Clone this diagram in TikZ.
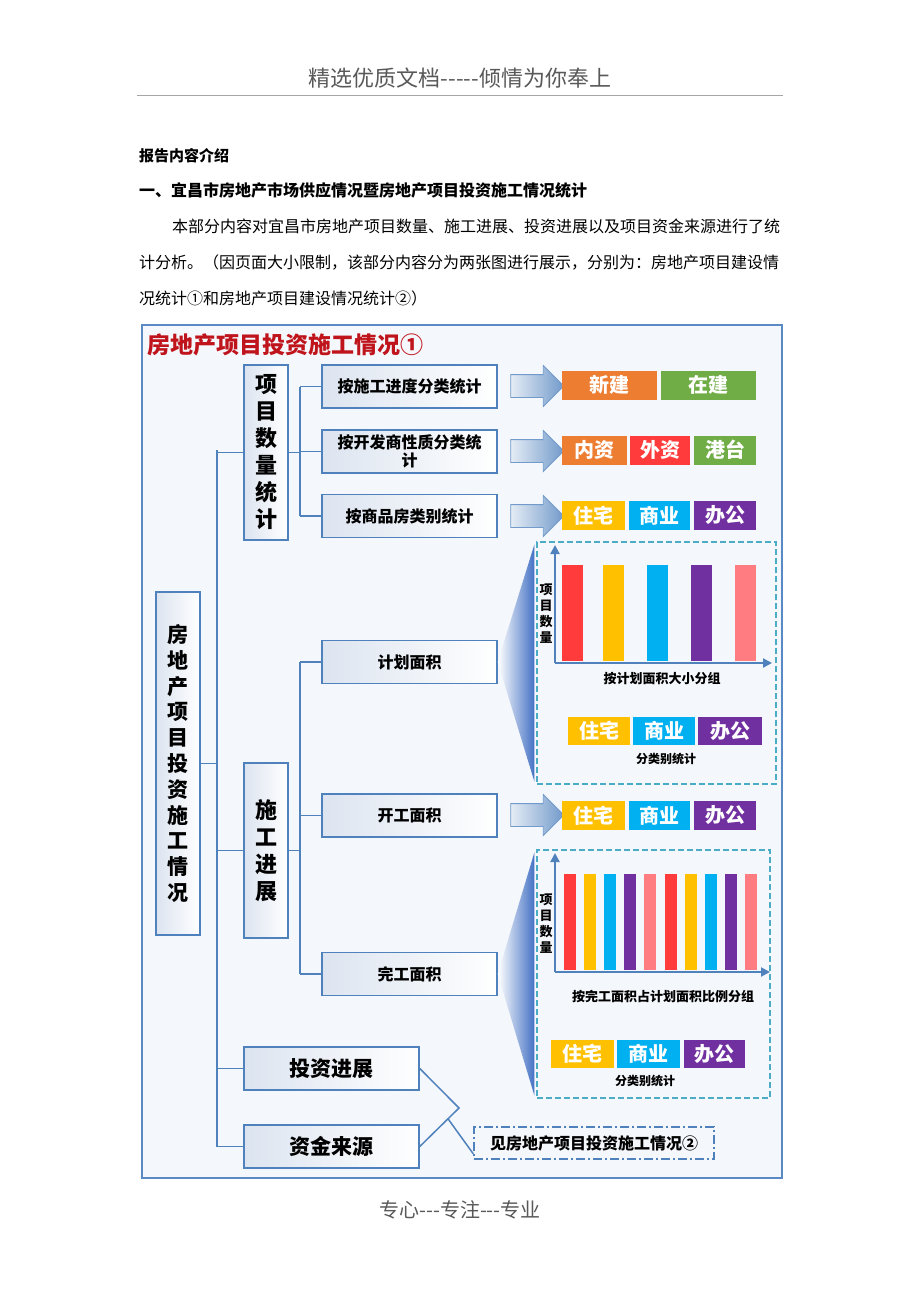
\documentclass[tikz,border=0pt]{standalone}
\usepackage{fontspec}
\setmainfont{Noto Sans CJK SC}
\usepackage{tikz}
\usetikzlibrary{positioning,calc,shapes.arrows,arrows.meta}
\definecolor{boxblue}{HTML}{4F81BD}
\definecolor{frameblue}{HTML}{5A8AC6}
\definecolor{framefill}{HTML}{F4F7FB}
\definecolor{boxfill}{HTML}{DCE4F0}
\definecolor{titlered}{HTML}{C0141C}
\definecolor{dashblue}{HTML}{4BACC6}
\definecolor{wedgeblue}{HTML}{4472C4}
\definecolor{tagorange}{HTML}{ED7D31}
\definecolor{taggreen}{HTML}{70AD47}
\definecolor{tagred}{HTML}{FF3B3B}
\definecolor{tagyellow}{HTML}{FFC000}
\definecolor{tagcyan}{HTML}{00B0F0}
\definecolor{tagpurple}{HTML}{7030A0}
\definecolor{tagpink}{HTML}{FF7C80}
\newcommand\hy{\hbox{-}}
\newcommand\fs[2]{\fontsize{#1}{#2}\selectfont}
\tikzset{bx/.style={draw=boxblue, line width=1.5pt, left color=boxfill, right color=white, inner sep=0pt, align=center, font=\bfseries\fs{16}{18}}}
\tikzset{vbx/.style={bx, minimum width=44, minimum height=175, font=\bfseries\fs{22}{27}}}
\tikzset{hbx/.style={bx, minimum width=175, minimum height=43}}
\tikzset{conn/.style={draw=boxblue, line width=1.5pt}}
\tikzset{barr/.style={single arrow, draw=boxblue!80, line width=0.8pt, left color=boxblue!15, right color=boxblue!80, inner sep=11pt, minimum height=53, single arrow head extend=9pt, single arrow head indent=0pt}}
\tikzset{tag/.style={fill=#1, text=white, inner sep=0pt, minimum height=29, font=\bfseries\fs{20}{20}}}
\tikzset{dbox/.style={draw=dashblue, dashed, line width=1.2pt, dash pattern=on 6pt off 3pt}}
\tikzset{axis/.style={draw=boxblue, line width=2pt, -{Triangle[length=9pt,width=9pt]}}}
\tikzset{small/.style={font=\bfseries\fs{12}{15.5}, align=center, inner sep=0pt}}
\begin{document}
\begin{tikzpicture}[x=1pt,y=-1pt]
\useasboundingbox[fill=white] (0,0) rectangle (920,1302);
% page text
\node[text=black!65, font=\fs{22}{22}] (HEAD) at (460,78) {精选优质文档\hy\hy\hy\hy\hy 倾情为你奉上};
\draw[black!35, line width=1pt] (137,95) -- (783,95);
\node[anchor=west, inner sep=0pt, font=\bfseries\fs{15}{15}] (SEC) at (139,156) {报告内容介绍};
\node[anchor=west, inner sep=0pt, font=\bfseries\fs{16}{16}] (SUB) at (139,190) {一、宜昌市房地产市场供应情况暨房地产项目投资施工情况统计};
\node[anchor=west, inner sep=0pt, font=\fs{16}{16}] (P1) at (172,226) {本部分内容对宜昌市房地产项目数量、施工进展、投资进展以及项目资金来源进行了统};
\node[anchor=west, inner sep=0pt, font=\fs{16}{16}] (P2) at (139,263) {计分析。（因页面大小限制，该部分内容分为两张图进行展示，分别为：房地产项目建设情};
\node[anchor=west, inner sep=0pt, font=\fs{16}{16}] (P3) at (139,298) {况统计①和房地产项目建设情况统计②）};

% frame
\node[draw=frameblue, fill=framefill, line width=2pt, minimum width=640, minimum height=853, inner sep=0pt] (FRAME) at (462,751.5) {};
\node[anchor=west, inner sep=0pt, text=titlered, font=\bfseries\fs{23}{23}] (TITLE) at (147,345) {房地产项目投资施工情况①};

% tree boxes
\node[bx, minimum width=44, minimum height=343, font=\bfseries\fs{21}{25.8}] (ROOT) at (178,763.5) {房\\地\\产\\项\\目\\投\\资\\施\\工\\情\\况};
\node[vbx] (XMSL) at (266,452.5) {项\\目\\数\\量\\统\\计};
\node[vbx] (SGJZ) at (266,850.5) {施\\工\\进\\展};
\node[hbx, font=\bfseries\fs{21}{21}] (TZJZ) at (331.5,1068.5) {投资进展};
\node[hbx, font=\bfseries\fs{21}{21}] (ZJLY) at (331.5,1146.5) {资金来源};
\node[hbx] (B1) at (409.5,386.5) {按施工进度分类统计};
\node[hbx] (B2) at (409.5,451.5) {按开发商性质分类统\\计};
\node[hbx] (B3) at (409.5,516) {按商品房类别统计};
\node[hbx] (JH) at (409.5,662) {计划面积};
\node[hbx] (KG) at (409.5,815.5) {开工面积};
\node[hbx] (WG) at (409.5,974) {完工面积};

% connectors
\coordinate (T) at (217,450);
\coordinate (S) at (300,0);
\draw[conn] (T) -- (T |- ZJLY.west);
\draw[conn] (ROOT.east) -- (ROOT.east -| T);
\foreach \n in {XMSL,SGJZ,TZJZ,ZJLY} \draw[conn] (T |- \n.west) -- (\n.west);
\draw[conn] (S |- B1.west) -- (S |- B3.west);
\draw[conn] (S |- JH.west) -- (S |- WG.west);
\draw[conn] (XMSL.east) -- (XMSL.east -| S);
\draw[conn] (SGJZ.east) -- (SGJZ.east -| S);
\foreach \n in {B1,B2,B3,JH,KG,WG} \draw[conn] (S |- \n.west) -- (\n.west);

% block arrows and tags
\node[barr] (A1) at (531.5,386) {};
\node[barr] (A2) at (531.5,451) {};
\node[barr] (A3) at (531.5,516) {};
\node[barr] (A4) at (531.5,815) {};
\node[tag=tagorange, minimum width=95] (N1) at (609.5,385) {新建};
\node[tag=taggreen, minimum width=95] (N2) at (708.5,385) {在建};
\node[tag=tagorange, minimum width=65] (N3) at (594.5,450) {内资};
\node[tag=tagred, minimum width=60] (N4) at (660,450) {外资};
\node[tag=taggreen, minimum width=62] (N5) at (725,450) {港台};
\foreach \y/\k in {515.5/C, 815.5/D} {
  \node[tag=tagyellow, minimum width=63] (\k1) at (593.5,\y) {住宅};
  \node[tag=tagcyan, minimum width=61] (\k2) at (659.5,\y) {商业};
  \node[tag=tagpurple, minimum width=62] (\k3) at (725,\y) {办公};
}

% chart 1
\node[dbox, minimum width=239, minimum height=242] (D1) at (656.5,663) {};
\shade[left color=white, right color=wedgeblue] (JH.east) -- ([shift={(-2,3)}]D1.north west) -- ([shift={(-2,-3)}]D1.south west) -- cycle;
\foreach \x/\c in {572/tagred, 613.5/tagyellow, 657.5/tagcyan, 701.5/tagpurple, 745.5/tagpink}
  \fill[\c] (\x-10.5,565) rectangle (\x+10.5,661);
\coordinate (O1) at (555,663);
\draw[axis] (O1) -- (555,545);
\draw[axis] (O1) -- (772,663);
\node[small, font=\bfseries\fs{13}{16}] (Y1) at (546,614) {项\\目\\数\\量};
\node[small, font=\bfseries\fs{13}{13}] (L1) at (662,679) {按计划面积大小分组};
\node[tag=tagyellow, minimum width=62, minimum height=28] (E1) at (599,731) {住宅};
\node[tag=tagcyan, minimum width=62, minimum height=28] (E2) at (664,731) {商业};
\node[tag=tagpurple, minimum width=64, minimum height=28] (E3) at (730,731) {办公};
\node[small] (M1) at (666,759) {分类别统计};

% chart 2
\node[dbox, minimum width=233, minimum height=248] (D2) at (653.5,974) {};
\shade[left color=white, right color=wedgeblue] (WG.east) -- ([shift={(-2,3)}]D2.north west) -- ([shift={(-2,-3)}]D2.south west) -- cycle;
\foreach \i/\c in {0/tagred, 1/tagyellow, 2/tagcyan, 3/tagpurple, 4/tagpink, 5/tagred, 6/tagyellow, 7/tagcyan, 8/tagpurple, 9/tagpink}
  \fill[\c] (564+20.1*\i,874) rectangle (576+20.1*\i,970);
\coordinate (O2) at (555,972);
\draw[axis] (O2) -- (555,853);
\draw[axis] (O2) -- (770,972);
\node[small, font=\bfseries\fs{13}{16}] (Y2) at (546,924) {项\\目\\数\\量};
\node[small, font=\bfseries\fs{13}{13}] (L2) at (663,997) {按完工面积占计划面积比例分组};
\node[tag=tagyellow, minimum width=63, minimum height=28] (F1) at (582.5,1054) {住宅};
\node[tag=tagcyan, minimum width=63, minimum height=28] (F2) at (648.5,1054) {商业};
\node[tag=tagpurple, minimum width=61, minimum height=28] (F3) at (714.5,1054) {办公};
\node[small] (M2) at (645,1081) {分类别统计};

% bottom
\node[draw=boxblue, line width=1.5pt, dash pattern=on 9pt off 3pt on 2pt off 3pt, minimum width=240, minimum height=32, inner sep=0pt, font=\bfseries\fs{16}{16}] (SEE) at (594,1143) {见房地产项目投资施工情况②};
\coordinate (V) at (459,1108);
\coordinate (VT) at ($(V)!0.28!(ZJLY.east)$);
\draw[conn] (TZJZ.east) -- (V) -- (ZJLY.east);
\draw[conn] (VT) -- ([yshift=6pt]SEE.south west);

\node[text=black!65, font=\fs{20}{20}] (FOOT) at (460,1210) {专心\hy\hy\hy 专注\hy\hy\hy 专业};
\end{tikzpicture}
\end{document}
